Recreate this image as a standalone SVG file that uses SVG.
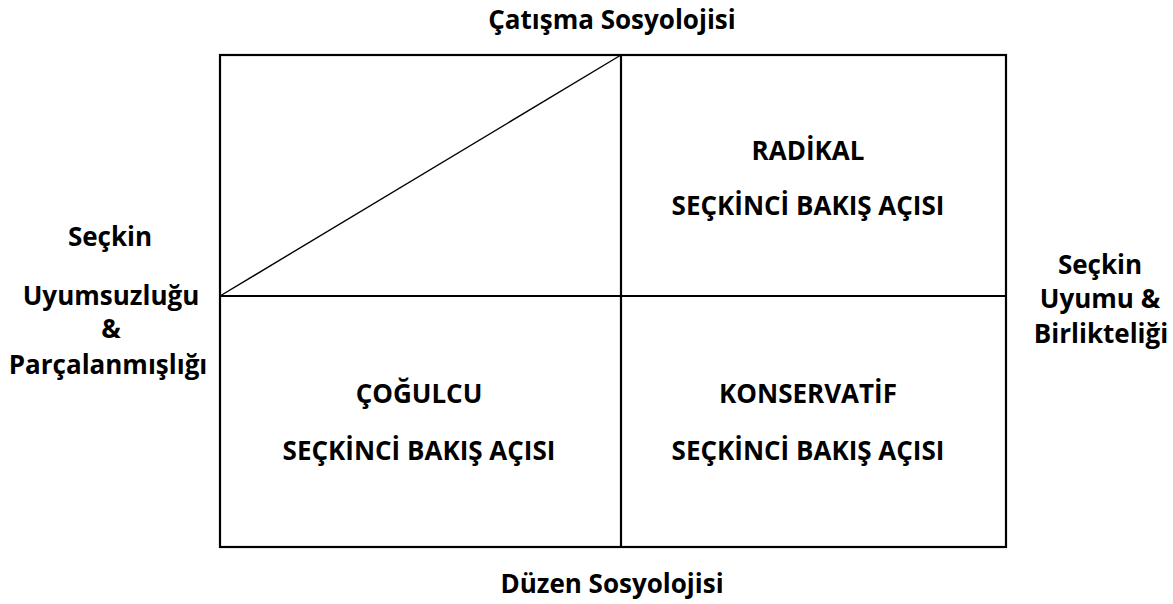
<svg xmlns="http://www.w3.org/2000/svg" width="1173" height="604" viewBox="0 0 1173 604">
<style>
text{font-family:"Open Sans","Liberation Sans",sans-serif;font-weight:bold;font-size:26px;fill:#000;text-anchor:middle}
.ln{stroke:#000;stroke-width:2.2;fill:none}
.thin{stroke:#000;stroke-width:1.4;fill:none}
</style>
<rect width="1173" height="604" fill="#fff"/>
<g id="frame">
<rect class="ln" x="220" y="55" width="786" height="492"/>
</g>
<g id="connectors">
<line class="ln" x1="621" y1="55" x2="621" y2="547"/>
<line class="ln" x1="220" y1="296" x2="1006" y2="296"/>
<line class="thin" x1="220" y1="296" x2="621" y2="55"/>
</g>
<g id="axis-top"><text x="612" y="29">Çatışma Sosyolojisi</text></g>
<g id="axis-bottom"><text x="612" y="593">Düzen Sosyolojisi</text></g>
<g id="axis-left">
<text x="110" y="246">Seçkin</text>
<text x="111" y="305">Uyumsuzluğu</text>
<text x="111" y="338">&amp;</text>
<text x="108" y="374">Parçalanmışlığı</text>
</g>
<g id="axis-right">
<text x="1100" y="274">Seçkin</text>
<text x="1100" y="308">Uyumu &amp;</text>
<text x="1101" y="343">Birlikteliği</text>
</g>
<g id="q-radikal">
<text x="808" y="160">RADİKAL</text>
<text x="808" y="215">SEÇKİNCİ BAKIŞ AÇISI</text>
</g>
<g id="q-cogulcu">
<text x="419" y="403">ÇOĞULCU</text>
<text x="419" y="460">SEÇKİNCİ BAKIŞ AÇISI</text>
</g>
<g id="q-konservatif">
<text x="808" y="403">KONSERVATİF</text>
<text x="808" y="460">SEÇKİNCİ BAKIŞ AÇISI</text>
</g>
</svg>
